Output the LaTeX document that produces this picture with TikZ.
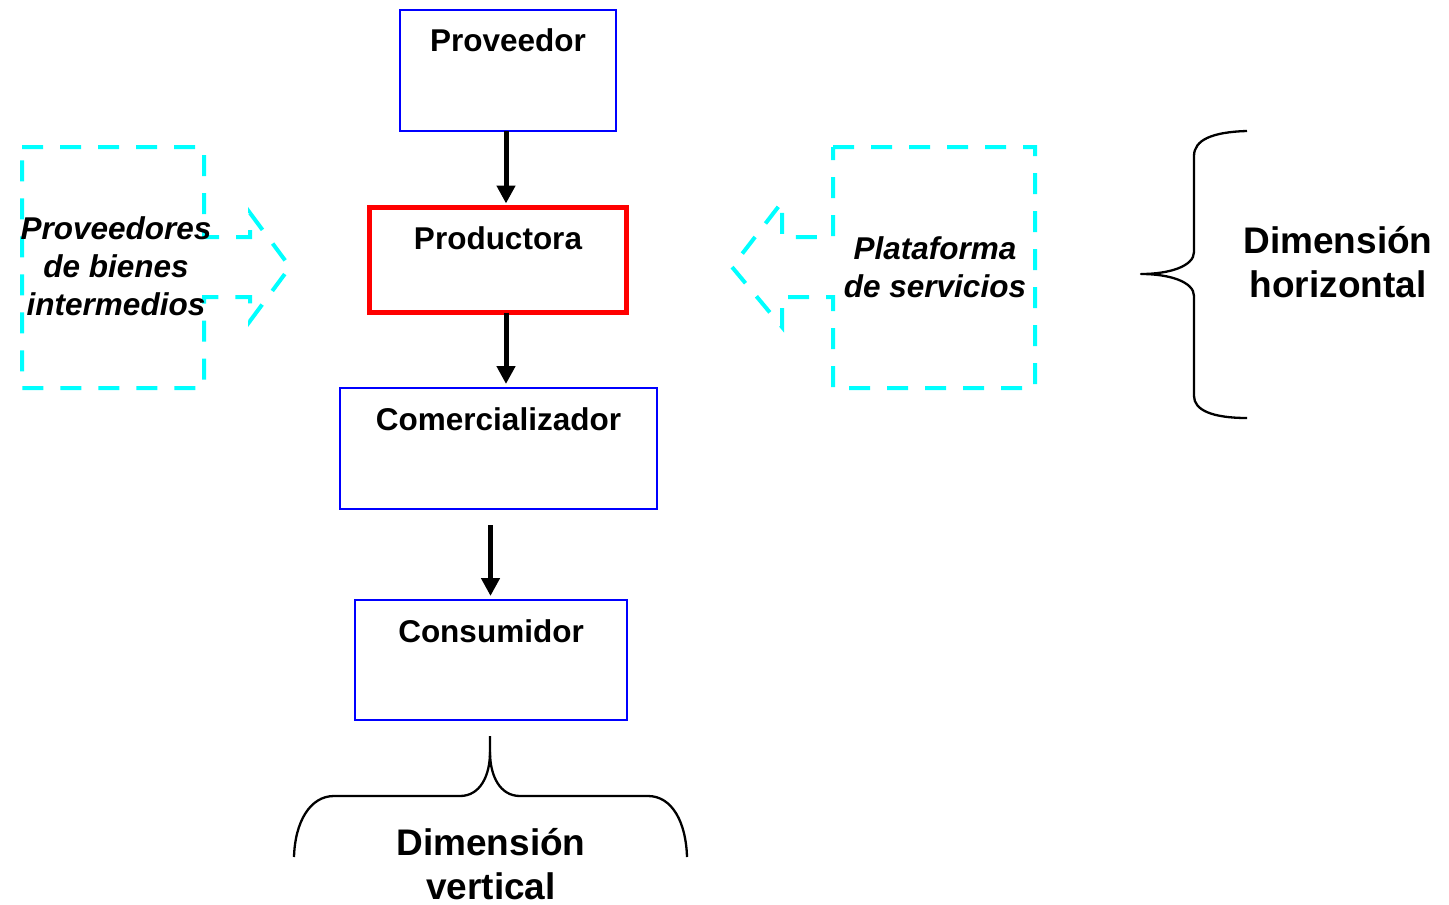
\documentclass[tikz,border=0pt]{standalone}
\usepackage{fontspec}
\setmainfont{Liberation Sans}
\usetikzlibrary{arrows.meta}
\definecolor{boxblue}{RGB}{0,0,255}
\definecolor{boxred}{RGB}{255,0,0}
\definecolor{dashcyan}{RGB}{0,255,255}
\begin{document}
\begin{tikzpicture}[x=1pt,y=-1pt,
  lbl/.style={font=\bfseries\fontsize{31.5}{38}\selectfont, inner sep=0pt, outer sep=0pt},
  ilbl/.style={font=\bfseries\itshape\fontsize{31.5}{37.8}\selectfont, align=center, inner sep=0pt},
  biglbl/.style={font=\bfseries\fontsize{37}{44}\selectfont, align=center, inner sep=0pt},
  bluebox/.style={draw=boxblue, line width=2pt, rectangle, inner sep=0pt, outer sep=0pt, anchor=north west},
  redbox/.style={draw=boxred, line width=5pt, rectangle, inner sep=0pt, outer sep=0pt, anchor=north west},
  arr/.style={line width=5pt, -{Triangle[width=18pt,length=18pt]}},
  dashshape/.style={draw=dashcyan, line width=4pt, dash pattern=on 21pt off 17pt},
  bracepath/.style={draw=black, line width=2.3pt, line join=round}
]
\useasboundingbox (0,0) rectangle (1449,905);

% boxes
\node[bluebox, minimum width=216pt, minimum height=121pt,
  label={[lbl,anchor=base,yshift=-41pt]north:Proveedor}] (prov) at (400,10) {};
\node[redbox, minimum width=257pt, minimum height=105pt,
  label={[lbl,anchor=base,yshift=-42pt]north:Productora}] (prod) at (369.5,207.5) {};
\node[bluebox, minimum width=317pt, minimum height=121pt,
  label={[lbl,anchor=base,yshift=-42pt]north:Comercializador}] (com) at (340,388) {};
\node[bluebox, minimum width=272pt, minimum height=120pt,
  label={[lbl,anchor=base,yshift=-42pt]north:Consumidor}] (cons) at (355,600) {};

% arrows
\draw[arr] ([xshift=-2pt]prov.south) -- ([xshift=8pt,yshift=4pt]prod.north);
\draw[arr] ([xshift=8pt]prod.south) -- ([xshift=7.5pt,yshift=4pt]com.north);
\draw[arr] ([xshift=-8pt,yshift=-16pt]com.south) -- ([xshift=-0.5pt,yshift=4pt]cons.north);

% dashed arrow shapes
\draw[dashshape] (22,147) -- (204,147) -- (204,237) -- (250,237) -- (250,213) -- (290,267)
  -- (250,321) -- (250,297) -- (204,297) -- (204,388) -- (22,388) -- cycle;
\draw[dashshape] (833,147) -- (1035,147) -- (1035,388) -- (833,388) -- (833,297) -- (782,297)
  -- (782,327) -- (732,267) -- (782,202) -- (782,237) -- (833,237) -- cycle;

\node[ilbl, anchor=base] (pbi) at (116,315) {Proveedores\\de bienes\\intermedios};
\node[ilbl, anchor=base] (pds) at (935,297) {Plataforma\\de servicios};

% braces
\draw[bracepath] (1247,131) .. controls (1212,132) and (1194,140) .. (1194,156) -- (1194,252)
  .. controls (1194,266) and (1170,274) .. (1141,274)
  .. controls (1170,274) and (1194,282) .. (1194,296) -- (1194,396)
  .. controls (1194,410) and (1212,418) .. (1247,418);
\node[biglbl, anchor=base] (dh) at (1338,297) {Dimensión\\horizontal};

\draw[bracepath] (294,857) .. controls (295,822) and (310,796) .. (334,796) -- (460,796)
  .. controls (480,796) and (490,776) .. (490,752) -- (490,736);
\draw[bracepath] (490,752) .. controls (490,776) and (500,796) .. (520,796) -- (648,796)
  .. controls (672,796) and (686,822) .. (687,857);
\node[biglbl, anchor=base] (dv) at (491,899) {Dimensión\\vertical};
\end{tikzpicture}
\end{document}
